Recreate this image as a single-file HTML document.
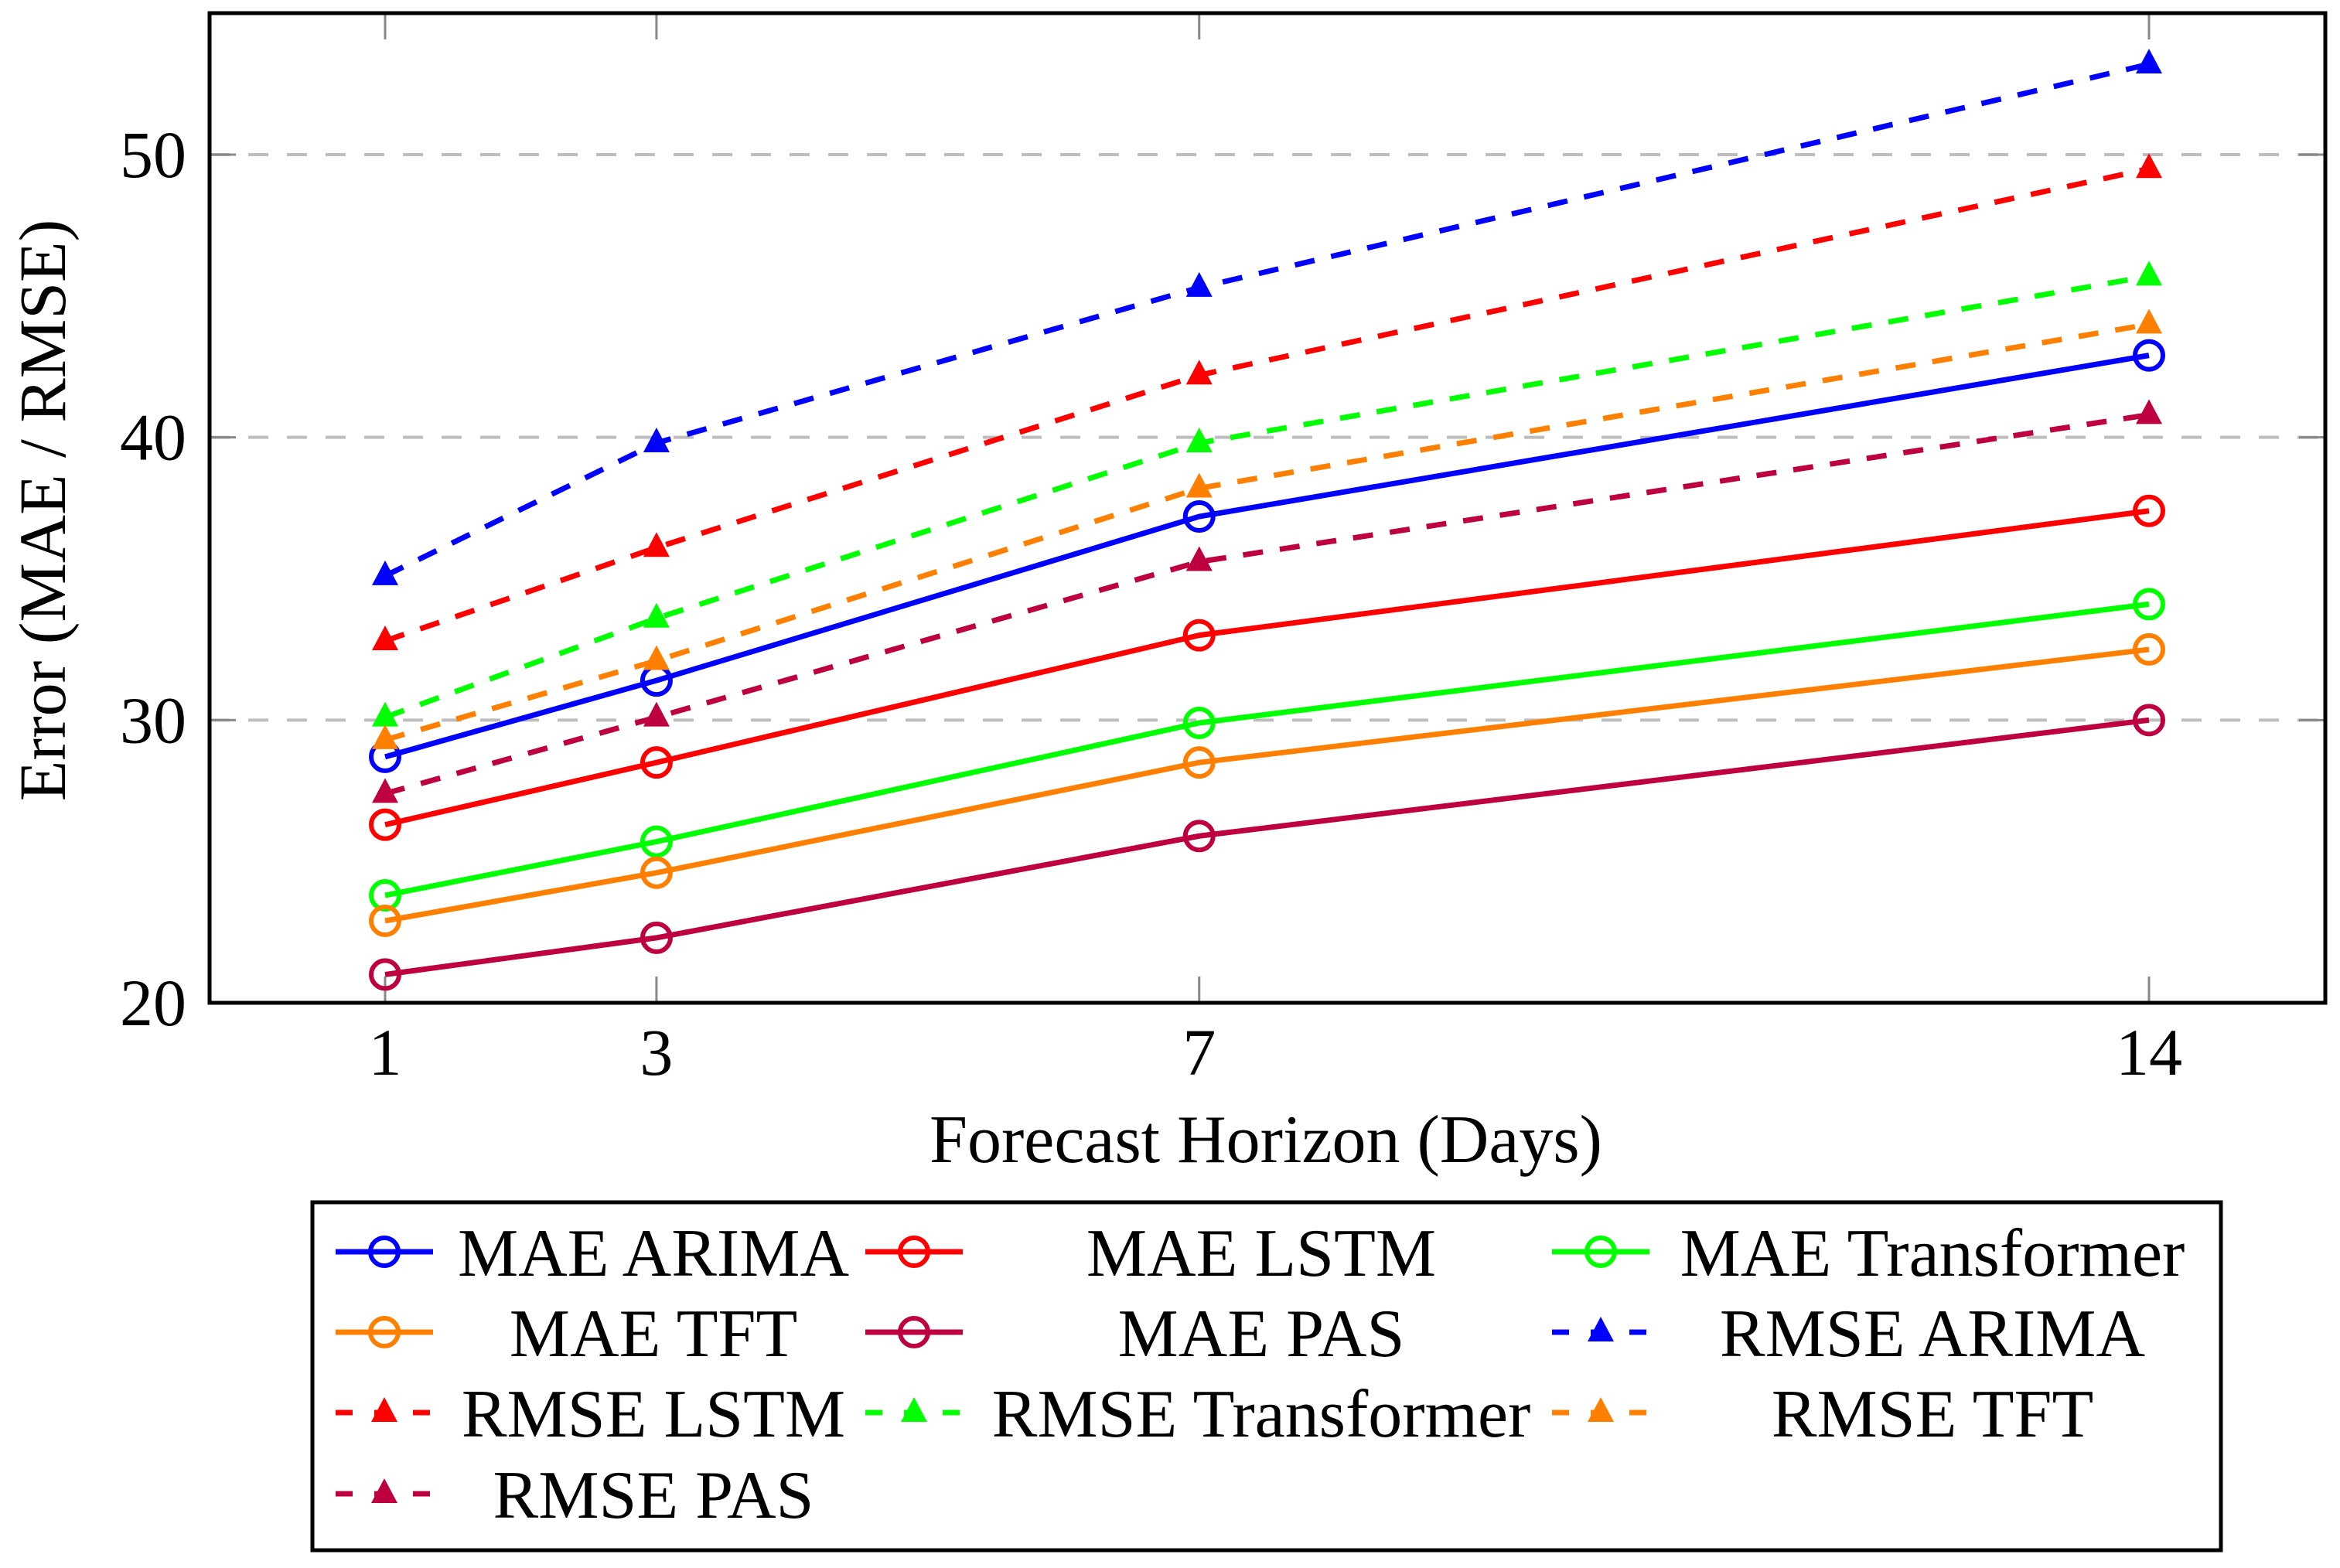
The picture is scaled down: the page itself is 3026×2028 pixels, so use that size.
<!DOCTYPE html>
<html><head><meta charset="utf-8"><style>
body{margin:0;background:#fff}
svg{display:block;font-family:"Liberation Serif",serif}
</style></head><body>
<svg id="chart" width="3026" height="2028" viewBox="0 0 3026 2028" xmlns="http://www.w3.org/2000/svg">
<g id="grid"></g>
<g id="axes"></g>
<g id="series"></g>
<rect x="271" y="17" width="2736" height="1280" fill="none" stroke="#000" stroke-width="5"/>
<text x="1637" y="1503" font-size="88" text-anchor="middle">Forecast Horizon (Days)</text>
<text transform="translate(84,660) rotate(-90)" font-size="86" text-anchor="middle">Error (MAE / RMSE)</text>
<g id="legend">
<rect x="404" y="1555" width="2468" height="450" fill="#fff" stroke="#000" stroke-width="5"/>
</g>
</svg>
<script>
const categories=[1,3,7,14];
const yTicks=[20,30,40,50];
const seriesNames=["MAE ARIMA","MAE LSTM","MAE Transformer","MAE TFT","MAE PAS","RMSE ARIMA","RMSE LSTM","RMSE Transformer","RMSE TFT","RMSE PAS"];
const maeArima=[28.7,31.4,37.2,42.9];
const maeLstm=[26.3,28.5,33.0,37.4];
const maeTransformer=[23.8,25.7,29.9,34.1];
const maeTft=[22.9,24.6,28.5,32.5];
const maePas=[21.0,22.3,25.9,30.0];
const rmseArima=[35.1,39.8,45.3,53.2];
const rmseLstm=[32.8,36.1,42.2,49.5];
const rmseTransformer=[30.1,33.6,39.8,45.7];
const rmseTft=[29.3,32.1,38.2,44.0];
const rmsePas=[27.4,30.1,35.6,40.8];

const NS="http://www.w3.org/2000/svg";
const L=271,R=3007,T=17,B=1297;
const xs=d=>498+(d-1)*(2779-498)/13;
const ys=v=>B-(v-20)*(B-200)/30;
function mk(tag,attrs,parent){const e=document.createElementNS(NS,tag);for(const k in attrs)e.setAttribute(k,attrs[k]);parent.appendChild(e);return e;}
const grid=document.getElementById('grid'),axes=document.getElementById('axes'),ser=document.getElementById('series'),leg=document.getElementById('legend');
yTicks.forEach(t=>{
  const y=ys(t);
  if(t>20){const g=mk('line',{x1:L,x2:R,y1:y,y2:y,stroke:'#bdbdbd','stroke-width':4,'stroke-dasharray':'26 24'},grid);
  
  }
  mk('line',{x1:L,x2:L+34,y1:y,y2:y,stroke:'#888','stroke-width':3},axes);
  mk('line',{x1:R-34,x2:R,y1:y,y2:y,stroke:'#888','stroke-width':3},axes);
  const tx=mk('text',{x:241,y:y+29,'font-size':86,'text-anchor':'end'},axes);tx.textContent=t;
  
  
});
categories.forEach(c=>{
  const x=xs(c);
  mk('line',{x1:x,x2:x,y1:B,y2:B-34,stroke:'#888','stroke-width':3},axes);
  mk('line',{x1:x,x2:x,y1:T,y2:T+34,stroke:'#888','stroke-width':3},axes);
  const tx=mk('text',{x:x,y:1390,'font-size':86,'text-anchor':'middle'},axes);tx.textContent=c;
  
  
});
const colors=['#0000ff','#ff0000','#00ff00','#ff8000','#bf0040'];
const allData=[maeArima,maeLstm,maeTransformer,maeTft,maePas,rmseArima,rmseLstm,rmseTransformer,rmseTft,rmsePas];
function marker(g,x,y,col,rmse){
  if(!rmse) return mk('circle',{cx:x,cy:y,r:18,fill:'none',stroke:col,'stroke-width':6},g);
  return mk('polygon',{points:`${x},${y-20} ${x-17},${y+12} ${x+17},${y+12}`,fill:col},g);
}
allData.forEach((d,i)=>{
  const col=colors[i%5],rmse=i>=5;
  const g=mk('g',{},ser);
  
  
  const pts=d.map((v,j)=>xs(categories[j])+','+ys(v)).join(' ');
  const pl=mk('polyline',{points:pts,fill:'none',stroke:col,'stroke-width':7,'stroke-dasharray':rmse?'26 22':'none'},g);
  
  
  d.forEach((v,j)=>{const m=marker(g,xs(categories[j]),ys(v),col,rmse);
    
    });
});
const colX=[[434,560,845],[1119,1245,1631],[2007,2133,2499]];
const rowY=[1619,1723,1827,1932];
seriesNames.forEach((n,i)=>{
  const r=Math.floor(i/3),c=i%3,col=colors[i%5],rmse=i>=5;
  const [x1,x2,tc]=colX[c],y=rowY[r];
  const g=mk('g',{},leg);
  
  
  mk('line',{x1:x1,x2:x2,y1:y,y2:y,stroke:col,'stroke-width':7,'stroke-dasharray':rmse?'22 28':'none'},g);
  marker(g,(x1+x2)/2,y,col,rmse);
  const t=mk('text',{x:tc,y:y+31,'font-size':88,'text-anchor':'middle'},g);t.textContent=n;
});
</script>
</body></html>
